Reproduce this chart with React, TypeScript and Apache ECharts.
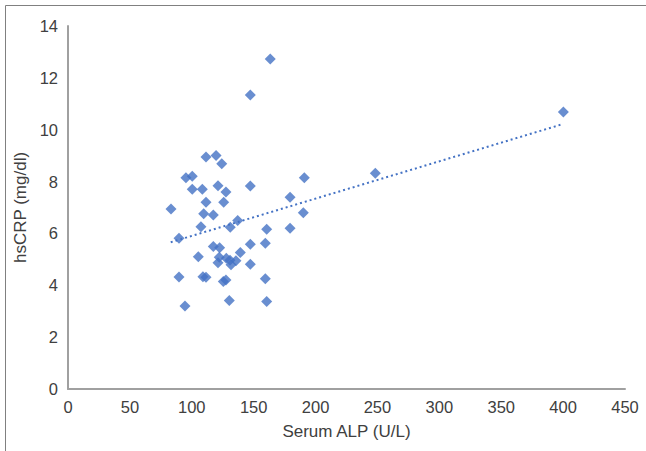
import React, { useEffect, useRef } from "react";
import * as echarts from "echarts";

const alpValues: number[] = [
  163.4, 147.3, 111.5, 119.6, 124.2, 95.3, 100.4, 190.9, 100.4, 108.5,
  121.2, 127.6, 147.3, 111.5, 125.8, 179.4, 83.2, 109.6, 117.4, 190.1,
  137.1, 107.4, 131.1, 89.7, 160.5, 179.4, 117.4, 122.5, 147.3, 159.4,
  105.3, 139.2, 122.2, 127.9, 130.9, 135.7, 121.2, 131.7, 147.3, 89.7,
  109.0, 111.5, 125.5, 127.6, 159.4, 94.5, 130.3, 160.5, 248.3, 400.2,
];
const crpValues: number[] = [
  12.73, 11.34, 8.95, 9.01, 8.69, 8.15, 8.21, 8.15, 7.7, 7.7,
  7.84, 7.6, 7.83, 7.2, 7.2, 7.4, 6.94, 6.76, 6.71, 6.8,
  6.5, 6.26, 6.24, 5.81, 6.16, 6.2, 5.5, 5.45, 5.58, 5.62,
  5.1, 5.26, 5.08, 5.04, 4.97, 4.95, 4.87, 4.79, 4.81, 4.32,
  4.33, 4.31, 4.15, 4.2, 4.25, 3.2, 3.41, 3.37, 8.32, 10.68,
];
const trendX: number[] = [83, 400];
const trendY: number[] = [5.66, 10.22];

const xTitle = "Serum ALP (U/L)";
const yTitle = "hsCRP (mg/dl)";

const COLOR = "#4472C4";
const AXIS = "#a0a0a0";
const TEXT = "#404040";
const FONT = "Liberation Sans, Arial, sans-serif";

export default function App() {
  const ref = useRef<HTMLDivElement>(null);
  useEffect(() => {
    if (!ref.current) return;
    const chart = echarts.init(ref.current, undefined, { renderer: "svg" });
    const points = alpValues.map((x, i) => [x, crpValues[i]]);
    const trend = trendX.map((x, i) => [x, trendY[i]]);
    chart.setOption({
      animation: false,
      backgroundColor: "#ffffff",
      textStyle: { fontFamily: FONT },
      grid: { left: 68, right: 21, top: 26, bottom: 62 },
      graphic: [
        {
          type: "rect",
          shape: { x: 5.5, y: 5.5, width: 800, height: 600 },
          style: { fill: "none", stroke: "#808080", lineWidth: 1 },
          silent: true,
        },
      ],
      xAxis: {
        type: "value",
        min: 0,
        max: 450,
        interval: 50,
        name: xTitle,
        nameLocation: "middle",
        nameGap: 34,
        nameTextStyle: { color: TEXT, fontSize: 17, fontFamily: FONT },
        axisLine: { show: true, lineStyle: { color: AXIS, width: 2 } },
        axisTick: { show: false },
        splitLine: { show: false },
        axisLabel: { color: TEXT, fontSize: 16.5, margin: 9, fontFamily: FONT },
      },
      yAxis: {
        type: "value",
        min: 0,
        max: 14,
        interval: 2,
        name: yTitle,
        nameLocation: "middle",
        nameGap: 37,
        nameTextStyle: { color: TEXT, fontSize: 17, fontFamily: FONT },
        axisLine: { show: true, lineStyle: { color: AXIS, width: 2 } },
        axisTick: { show: false },
        splitLine: { show: false },
        axisLabel: { color: TEXT, fontSize: 16.5, margin: 10, fontFamily: FONT },
      },
      series: [
        {
          type: "line",
          data: trend,
          symbol: "none",
          lineStyle: { color: COLOR, width: 2, type: [2, 3] },
          z: 1,
        },
        {
          type: "scatter",
          data: points,
          symbol: "diamond",
          symbolSize: 11,
          itemStyle: { color: COLOR },
          z: 2,
        },
      ],
    });
    return () => chart.dispose();
  }, []);
  return (
    <div
      ref={ref}
      style={{ position: "fixed", left: 0, top: 0, width: 646, height: 451 }}
    />
  );
}
